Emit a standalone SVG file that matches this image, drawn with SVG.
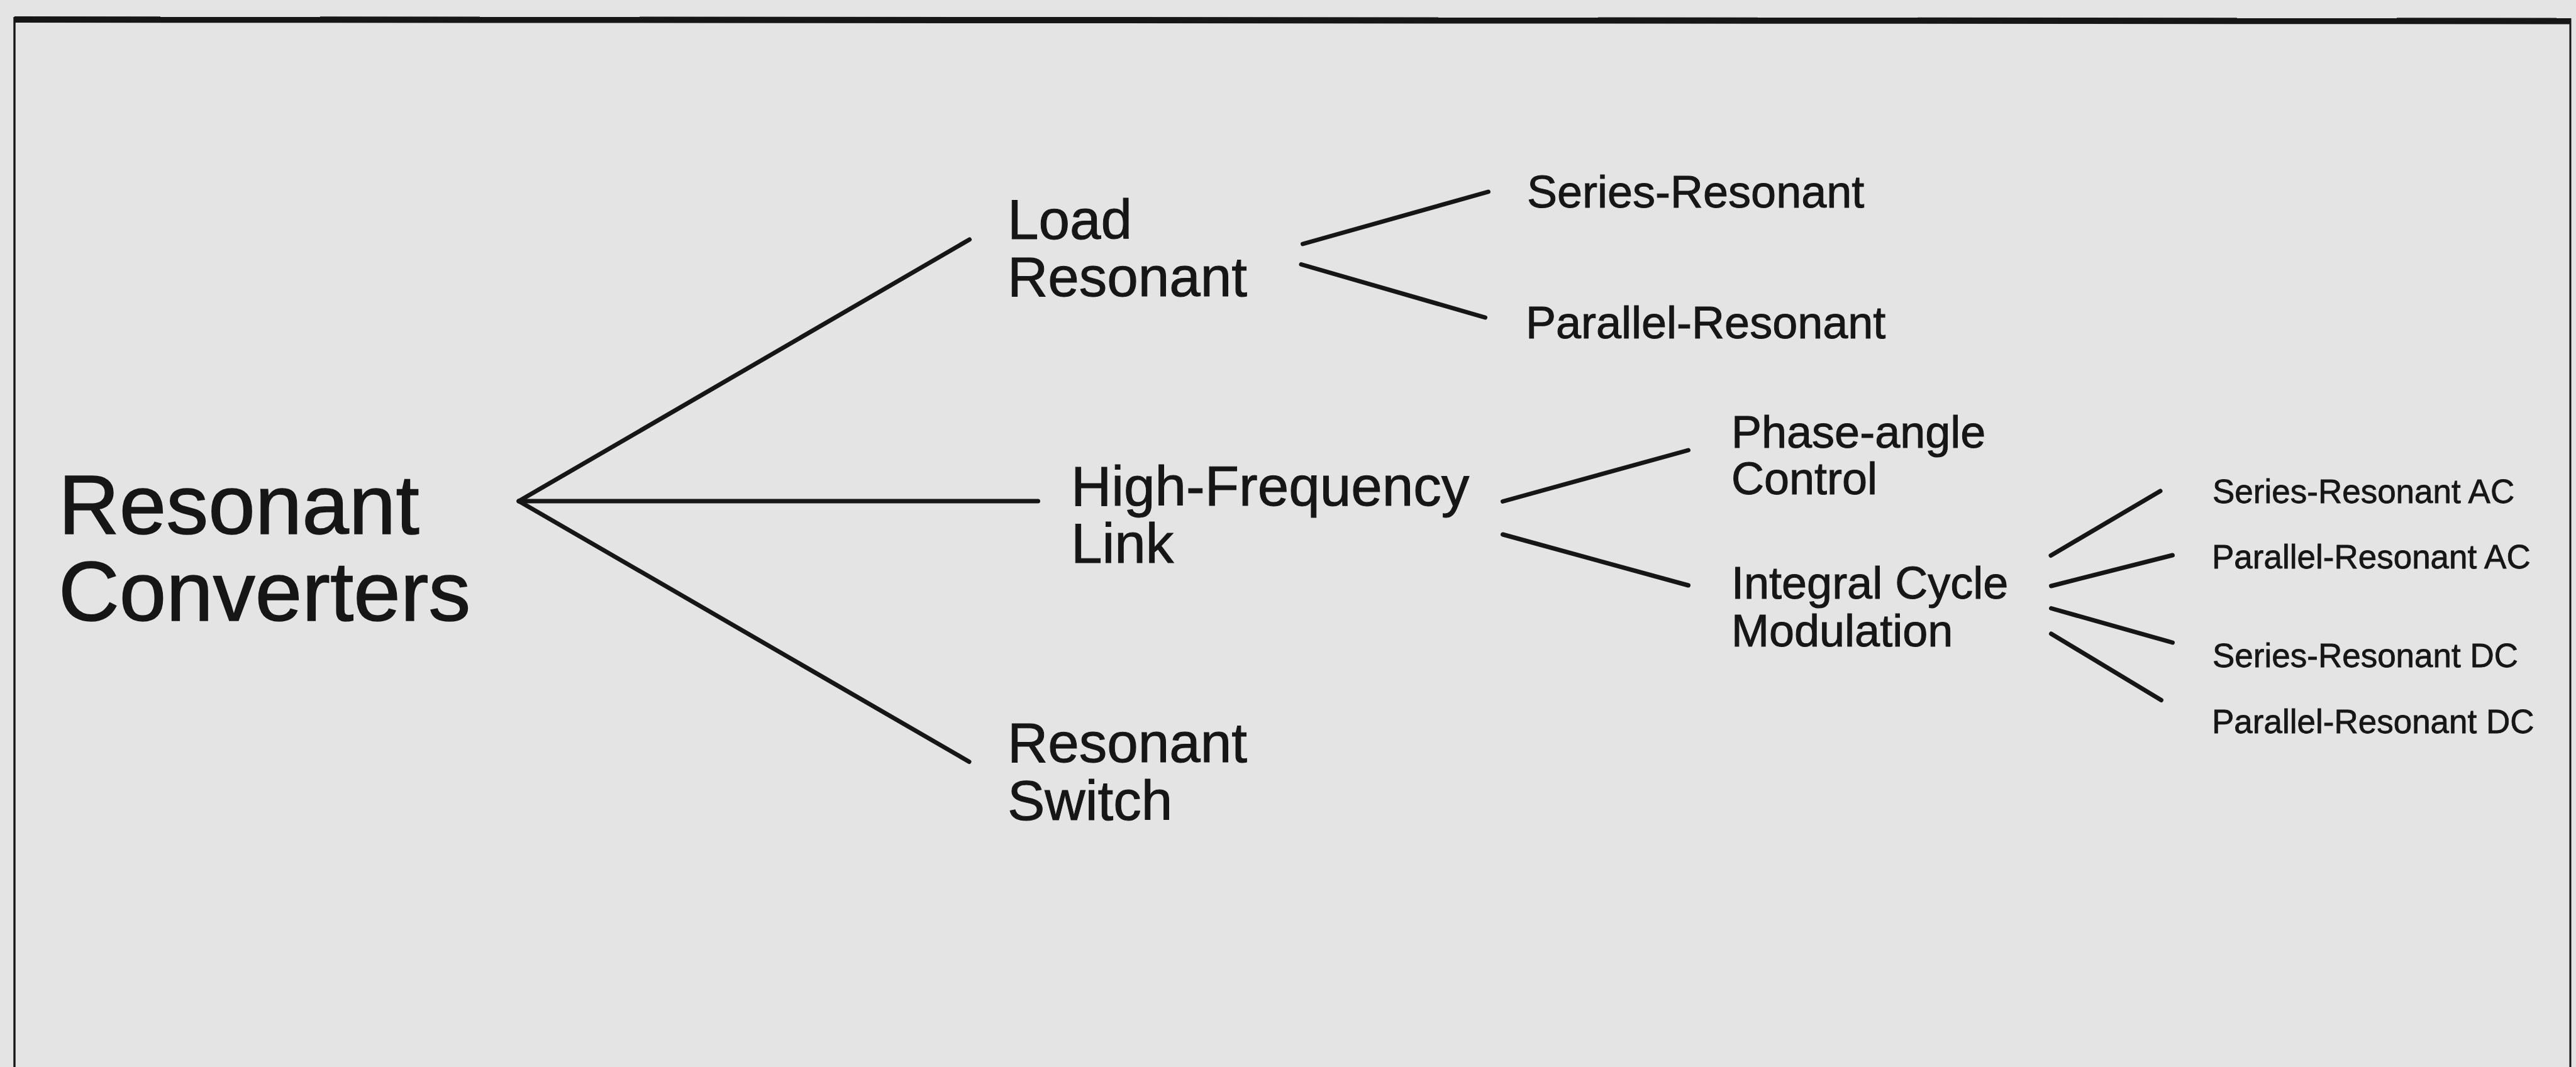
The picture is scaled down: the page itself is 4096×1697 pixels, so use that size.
<svg xmlns="http://www.w3.org/2000/svg" width="4096" height="1697" viewBox="0 0 4096 1697">
<style>
.bg{fill:#e4e4e4}
.frame{stroke:#161616;fill:none;stroke-linecap:butt}
.conn line{stroke:#161616;stroke-width:7;stroke-linecap:round}
text{font-family:"Liberation Sans",Arial,Helvetica,sans-serif;fill:#161616;stroke:#161616;stroke-width:1}
.t0{font-size:134px;stroke-width:1.5}
.t1{font-size:89px}
.t2{font-size:72px}
.t3{font-size:53px;stroke-width:0.8}
</style>
<rect class="bg" x="0" y="0" width="4096" height="1697"/>
<g id="frame">
<line class="frame" x1="23" y1="31" x2="4087" y2="33.5" style="stroke-width:10"/>
<line class="frame" x1="23" y1="27" x2="23" y2="1697" style="stroke-width:3.4"/>
<line class="frame" x1="4087" y1="29" x2="4087" y2="1697" style="stroke-width:3"/>
</g>
<g id="connectors" class="conn">
<line x1="825" y1="797" x2="1541.5" y2="381"/>
<line x1="825" y1="797" x2="1650.5" y2="797"/>
<line x1="825" y1="797" x2="1541" y2="1211.5"/>
<line x1="2071.5" y1="388" x2="2366.5" y2="305"/>
<line x1="2069" y1="420.5" x2="2361.5" y2="505"/>
<line x1="2389.5" y1="797.5" x2="2684.5" y2="716"/>
<line x1="2389.5" y1="850" x2="2684.5" y2="931"/>
<line x1="3261" y1="883.5" x2="3435" y2="781"/>
<line x1="3261.5" y1="932" x2="3454.5" y2="883"/>
<line x1="3261.5" y1="967.5" x2="3454.5" y2="1022"/>
<line x1="3261.5" y1="1008" x2="3436.5" y2="1113.5"/>
</g>
<g id="node-resonant-converters"><text class="t0" x="93" y="849">Resonant</text><text class="t0" x="93" y="987">Converters</text></g>
<g id="node-load-resonant"><text class="t1" x="1602" y="380">Load</text><text class="t1" x="1602" y="471">Resonant</text></g>
<g id="node-hf-link"><text class="t1" x="1703" y="804">High-Frequency</text><text class="t1" x="1703" y="895">Link</text></g>
<g id="node-resonant-switch"><text class="t1" x="1602" y="1212">Resonant</text><text class="t1" x="1602" y="1304">Switch</text></g>
<g id="node-series-resonant"><text class="t2" x="2428" y="330">Series-Resonant</text></g>
<g id="node-parallel-resonant"><text class="t2" x="2426" y="538">Parallel-Resonant</text></g>
<g id="node-phase-angle"><text class="t2" x="2753" y="712">Phase-angle</text><text class="t2" x="2753" y="786">Control</text></g>
<g id="node-icm"><text class="t2" x="2753" y="952">Integral Cycle</text><text class="t2" x="2753" y="1028">Modulation</text></g>
<g id="node-sr-ac"><text class="t3" x="3518" y="800">Series-Resonant AC</text></g>
<g id="node-pr-ac"><text class="t3" x="3517" y="904">Parallel-Resonant AC</text></g>
<g id="node-sr-dc"><text class="t3" x="3518" y="1061">Series-Resonant DC</text></g>
<g id="node-pr-dc"><text class="t3" x="3517" y="1166">Parallel-Resonant DC</text></g>
</svg>
